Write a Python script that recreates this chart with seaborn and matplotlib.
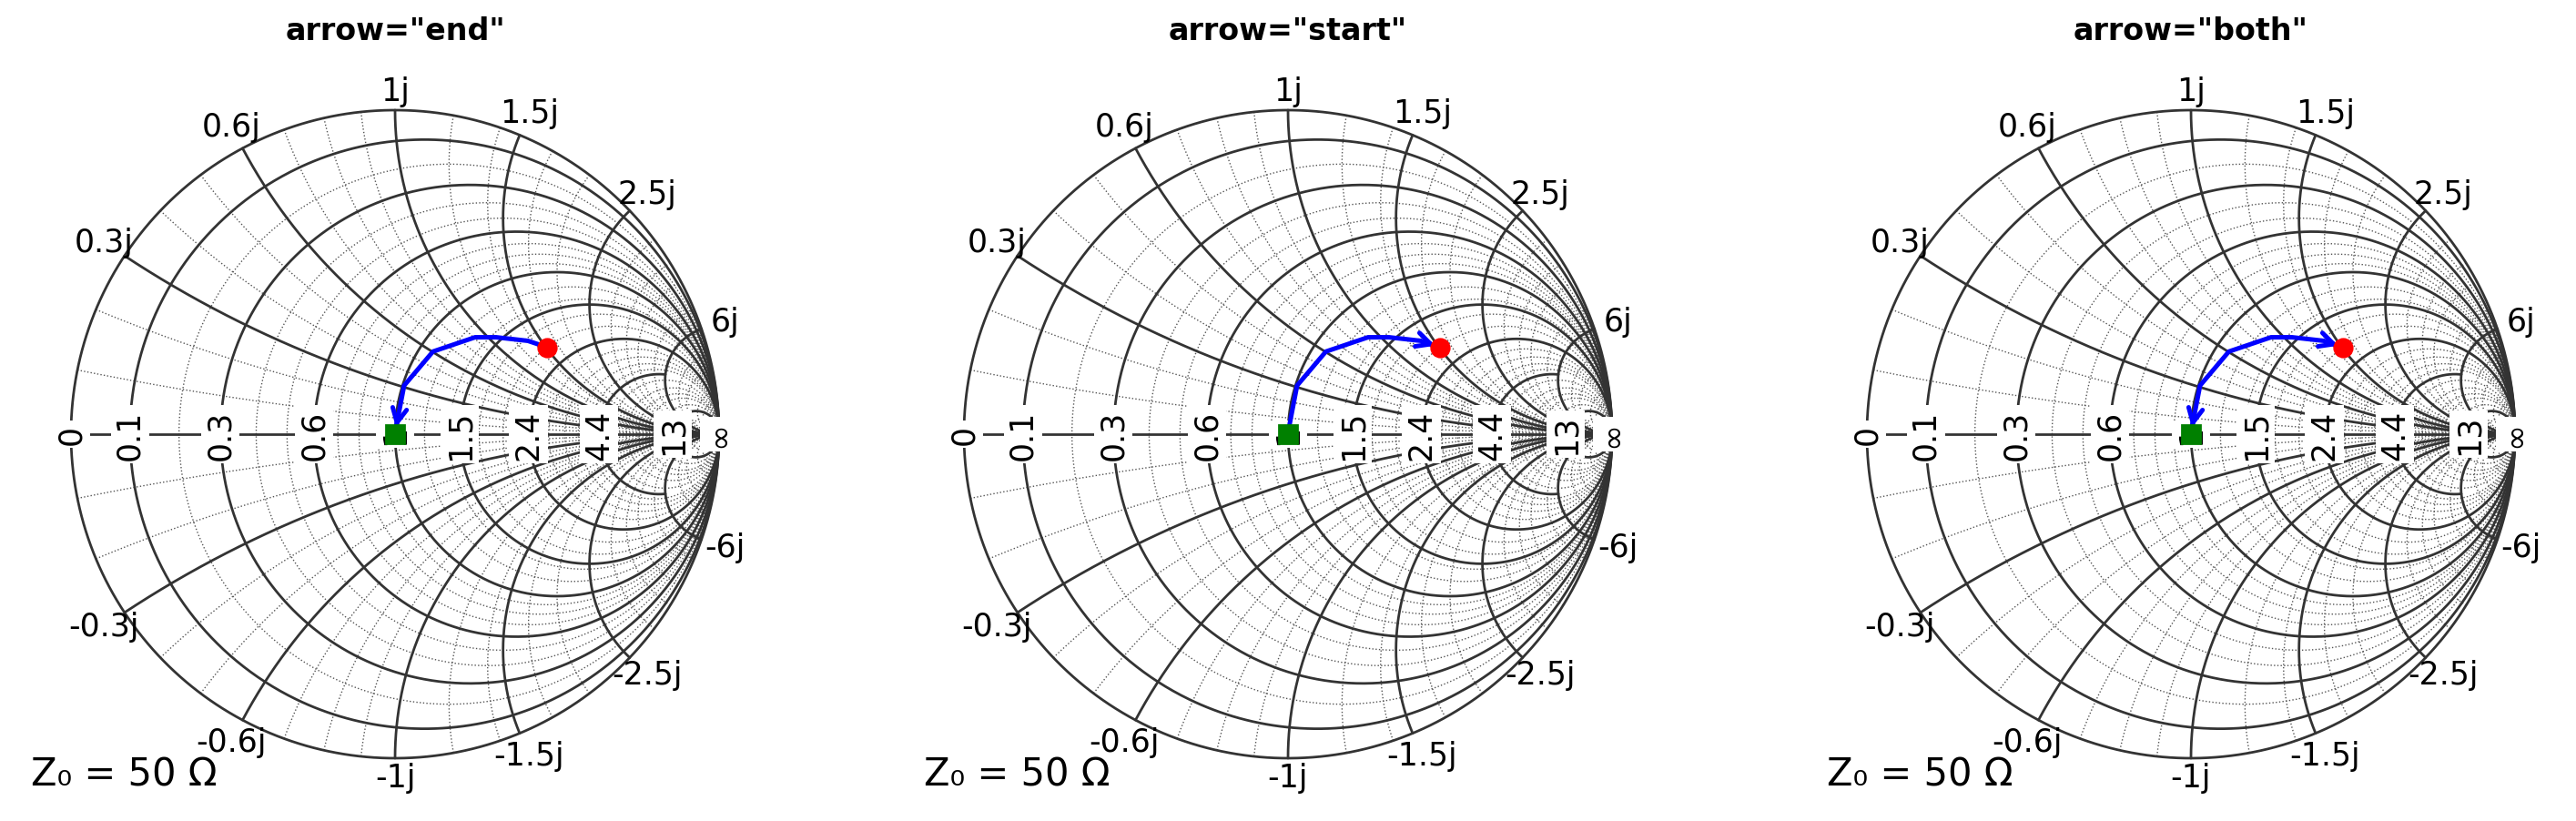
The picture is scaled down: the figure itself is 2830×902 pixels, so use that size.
import numpy as np
import matplotlib
matplotlib.use("Agg")
import matplotlib.pyplot as plt
import seaborn as sns

sns.set_style("white")
plt.rcParams['font.family'] = ['DejaVu Sans']
plt.rcParams['text.color'] = 'black'

titles = ['arrow="end"', 'arrow="start"', 'arrow="both"']
arrow_modes = ["end", "start", "both"]
# trajectory in reflection-coefficient plane (start -> end)
path_re = [0.47, 0.41, 0.312, 0.247, 0.117, 0.028, 0.006, 0.0]
path_im = [0.268, 0.288, 0.299, 0.299, 0.255, 0.150, 0.036, 0.0]
r_major = [0.1, 0.3, 0.6, 1, 1.5, 2.4, 4.4, 13]
r_major_xlim = [np.inf, np.inf, np.inf, np.inf, np.inf, np.inf, 6, np.inf]
x_major = [0.3, 0.6, 1, 1.5, 2.5, 6]
x_major_rlim = [4.4, 13, np.inf, np.inf, np.inf, np.inf]
r_labels = ["0", "0.1", "0.3", "0.6", "1", "1.5", "2.4", "4.4", "13", "∞"]
r_label_vals = [0, 0.1, 0.3, 0.6, 1, 1.5, 2.4, 4.4, 13, np.inf]
x_labels = ["0.3j", "0.6j", "1j", "1.5j", "2.5j", "6j"]
r_minor = [0.2, 0.4, 0.5, 0.7, 0.8, 0.9, 1.2, 1.4, 1.7, 2, 2.8, 3.2, 3.6, 4, 5, 6, 7, 8, 10, 20]
x_minor = [0.1, 0.2, 0.4, 0.5, 0.7, 0.8, 0.9, 1.2, 1.4, 1.7, 2, 3, 3.5, 4, 5, 8, 10, 15, 20, 30]

def gam(z):
    return (z - 1) / (z + 1)

fig = plt.figure(figsize=(14.15, 4.515), dpi=200)
W, H = 2830, 903
R = 356
centers = [434, 1415, 2407]
cy = 478
for k in range(3):
    half = 1.12 * R
    ax = fig.add_axes([(centers[k]-half)/W, (H-cy-half)/H, 2*half/W, 2*half/H])
    ax.set_xlim(-1.12, 1.12); ax.set_ylim(-1.12, 1.12)
    ax.set_aspect('equal'); ax.axis('off')
    for r in r_minor:
        t = np.tan(np.linspace(-np.pi/2 + 1e-4, np.pi/2 - 1e-4, 800))
        g = gam(r + 1j*t)
        ax.plot(g.real, g.imag, ls=':', color='#555555', lw=0.5, zorder=1)
    for x in x_minor:
        tp = np.tan(np.linspace(0, np.pi/2 - 1e-4, 600))
        for s in (1, -1):
            g = gam(tp + 1j*s*x)
            ax.plot(g.real, g.imag, ls=':', color='#555555', lw=0.5, zorder=1)
    th = np.linspace(0, 2*np.pi, 800)
    ax.plot(np.cos(th), np.sin(th), color='#333333', lw=1.0, zorder=2)
    for r, xl in zip(r_major, r_major_xlim):
        a = np.pi/2 - 1e-4 if np.isinf(xl) else np.arctan(xl)
        t = np.tan(np.linspace(-a, a, 800))
        g = gam(r + 1j*t)
        ax.plot(g.real, g.imag, color='#333333', lw=1.0, zorder=2)
    for x, rl in zip(x_major, x_major_rlim):
        a = np.pi/2 - 1e-4 if np.isinf(rl) else np.arctan(rl)
        tp = np.tan(np.linspace(0, a, 600))
        for s in (1, -1):
            g = gam(tp + 1j*s*x)
            ax.plot(g.real, g.imag, color='#333333', lw=1.0, zorder=2)
    ax.plot([-1, 1], [0, 0], color='#333333', lw=1.0, zorder=2)
    for lab, r in zip(r_labels, r_label_vals):
        xg = 1.0 if np.isinf(r) else (r - 1) / (r + 1)
        ax.text(xg, 0, lab, rotation=90, ha='center', va='center', fontsize=12.5,
                bbox=dict(facecolor='white', edgecolor='none', pad=1.5), zorder=3)
    for lab, x in zip(x_labels, x_major):
        for s in (1, -1):
            g = gam(1j*s*x)
            ang = np.angle(g)
            txt = lab if s > 0 else "-" + lab
            rr = 1.075 if x != 1 else 1.06
            ax.text(rr*np.cos(ang), rr*np.sin(ang), txt, ha='center', va='center', fontsize=12.5, zorder=3)
    sns.lineplot(x=path_re, y=path_im, sort=False, estimator=None, color='blue', lw=1.8, ax=ax, zorder=5)
    ap = dict(arrowstyle='->', color='blue', lw=1.8, mutation_scale=14)
    if arrow_modes[k] in ("end", "both"):
        ax.annotate("", xy=(path_re[-1], path_im[-1]+0.005), xytext=(path_re[-2], path_im[-2]), arrowprops=ap, zorder=6)
    if arrow_modes[k] in ("start", "both"):
        ax.annotate("", xy=(path_re[0], path_im[0]), xytext=(path_re[1], path_im[1]), arrowprops=ap, zorder=6)
    ax.plot(path_re[0], path_im[0], 'o', color='red', ms=7, zorder=7)
    ax.plot(path_re[-1], path_im[-1], 's', color='green', ms=7, zorder=7)
    fig.text((centers[k])/W, 1 - 35/H, titles[k], ha='center', va='center', fontsize=12, fontweight='bold')
    fig.text((centers[k]-400)/W, 1 - 852/H, "Z₀ = 50 Ω", ha='left', va='center', fontsize=15)

fig.savefig("out.png", dpi=200)
